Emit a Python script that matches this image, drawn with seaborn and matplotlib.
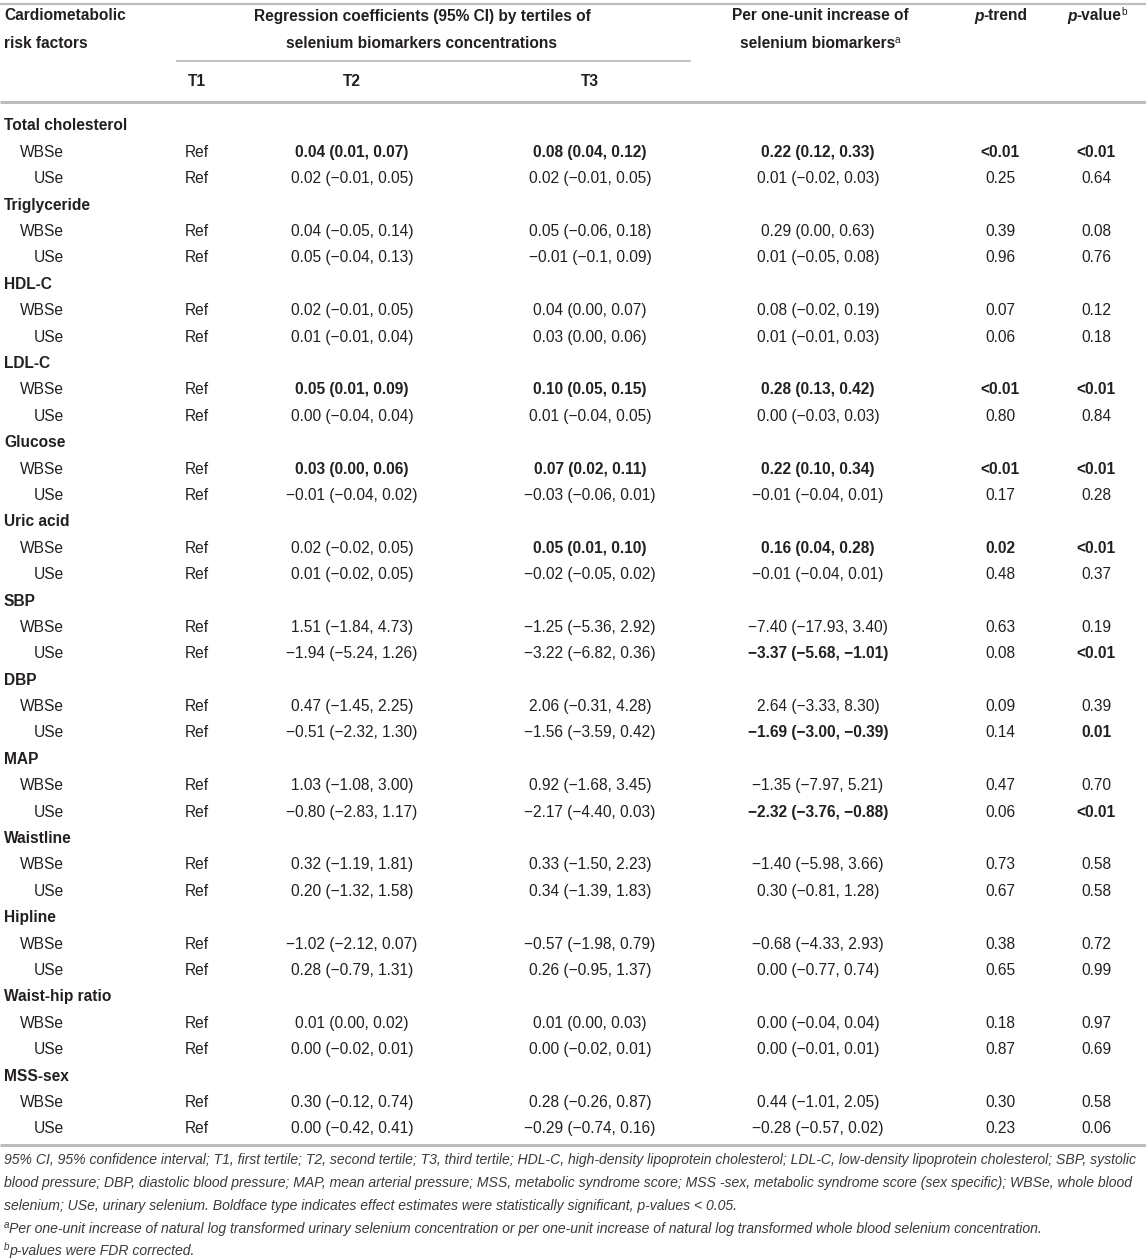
import seaborn as sns
import matplotlib.pyplot as plt

sns.set_theme(style="white")
plt.rcParams["font.family"] = ["Liberation Sans", "DejaVu Sans"]

# ---- table data ----
factors = ["Total cholesterol", "Triglyceride", "HDL-C", "LDL-C", "Glucose",
           "Uric acid", "SBP", "DBP", "MAP", "Waistline", "Hipline",
           "Waist-hip ratio", "MSS-sex"]
biomarkers = ["WBSe", "USe"]
t1_label = "Ref"

# two entries per factor: WBSe then USe
t2 = ["0.04 (0.01, 0.07)", "0.02 (\u22120.01, 0.05)",
      "0.04 (\u22120.05, 0.14)", "0.05 (\u22120.04, 0.13)",
      "0.02 (\u22120.01, 0.05)", "0.01 (\u22120.01, 0.04)",
      "0.05 (0.01, 0.09)", "0.00 (\u22120.04, 0.04)",
      "0.03 (0.00, 0.06)", "\u22120.01 (\u22120.04, 0.02)",
      "0.02 (\u22120.02, 0.05)", "0.01 (\u22120.02, 0.05)",
      "1.51 (\u22121.84, 4.73)", "\u22121.94 (\u22125.24, 1.26)",
      "0.47 (\u22121.45, 2.25)", "\u22120.51 (\u22122.32, 1.30)",
      "1.03 (\u22121.08, 3.00)", "\u22120.80 (\u22122.83, 1.17)",
      "0.32 (\u22121.19, 1.81)", "0.20 (\u22121.32, 1.58)",
      "\u22121.02 (\u22122.12, 0.07)", "0.28 (\u22120.79, 1.31)",
      "0.01 (0.00, 0.02)", "0.00 (\u22120.02, 0.01)",
      "0.30 (\u22120.12, 0.74)", "0.00 (\u22120.42, 0.41)"]
t3 = ["0.08 (0.04, 0.12)", "0.02 (\u22120.01, 0.05)",
      "0.05 (\u22120.06, 0.18)", "\u22120.01 (\u22120.1, 0.09)",
      "0.04 (0.00, 0.07)", "0.03 (0.00, 0.06)",
      "0.10 (0.05, 0.15)", "0.01 (\u22120.04, 0.05)",
      "0.07 (0.02, 0.11)", "\u22120.03 (\u22120.06, 0.01)",
      "0.05 (0.01, 0.10)", "\u22120.02 (\u22120.05, 0.02)",
      "\u22121.25 (\u22125.36, 2.92)", "\u22123.22 (\u22126.82, 0.36)",
      "2.06 (\u22120.31, 4.28)", "\u22121.56 (\u22123.59, 0.42)",
      "0.92 (\u22121.68, 3.45)", "\u22122.17 (\u22124.40, 0.03)",
      "0.33 (\u22121.50, 2.23)", "0.34 (\u22121.39, 1.83)",
      "\u22120.57 (\u22121.98, 0.79)", "0.26 (\u22120.95, 1.37)",
      "0.01 (0.00, 0.03)", "0.00 (\u22120.02, 0.01)",
      "0.28 (\u22120.26, 0.87)", "\u22120.29 (\u22120.74, 0.16)"]
per_unit = ["0.22 (0.12, 0.33)", "0.01 (\u22120.02, 0.03)",
            "0.29 (0.00, 0.63)", "0.01 (\u22120.05, 0.08)",
            "0.08 (\u22120.02, 0.19)", "0.01 (\u22120.01, 0.03)",
            "0.28 (0.13, 0.42)", "0.00 (\u22120.03, 0.03)",
            "0.22 (0.10, 0.34)", "\u22120.01 (\u22120.04, 0.01)",
            "0.16 (0.04, 0.28)", "\u22120.01 (\u22120.04, 0.01)",
            "\u22127.40 (\u221217.93, 3.40)", "\u22123.37 (\u22125.68, \u22121.01)",
            "2.64 (\u22123.33, 8.30)", "\u22121.69 (\u22123.00, \u22120.39)",
            "\u22121.35 (\u22127.97, 5.21)", "\u22122.32 (\u22123.76, \u22120.88)",
            "\u22121.40 (\u22125.98, 3.66)", "0.30 (\u22120.81, 1.28)",
            "\u22120.68 (\u22124.33, 2.93)", "0.00 (\u22120.77, 0.74)",
            "0.00 (\u22120.04, 0.04)", "0.00 (\u22120.01, 0.01)",
            "0.44 (\u22121.01, 2.05)", "\u22120.28 (\u22120.57, 0.02)"]
p_trend = ["<0.01", "0.25", "0.39", "0.96", "0.07", "0.06", "<0.01", "0.80",
           "<0.01", "0.17", "0.02", "0.48", "0.63", "0.08", "0.09", "0.14",
           "0.47", "0.06", "0.73", "0.67", "0.38", "0.65", "0.18", "0.87",
           "0.30", "0.23"]
p_value = ["<0.01", "0.64", "0.08", "0.76", "0.12", "0.18", "<0.01", "0.84",
           "<0.01", "0.28", "<0.01", "0.37", "0.19", "<0.01", "0.39", "0.01",
           "0.70", "<0.01", "0.58", "0.58", "0.72", "0.99", "0.97", "0.69",
           "0.58", "0.06"]

# significance flags (boldface) per column
sig_t2 = [1, 0, 0, 0, 0, 0, 1, 0, 1, 0, 0, 0, 0, 0, 0, 0, 0, 0, 0, 0, 0, 0, 0, 0, 0, 0]
sig_t3 = [1, 0, 0, 0, 0, 0, 1, 0, 1, 0, 1, 0, 0, 0, 0, 0, 0, 0, 0, 0, 0, 0, 0, 0, 0, 0]
sig_pu = [1, 0, 0, 0, 0, 0, 1, 0, 1, 0, 1, 0, 0, 1, 0, 1, 0, 1, 0, 0, 0, 0, 0, 0, 0, 0]
sig_pt = [1, 0, 0, 0, 0, 0, 1, 0, 1, 0, 1, 0, 0, 0, 0, 0, 0, 0, 0, 0, 0, 0, 0, 0, 0, 0]
sig_pv = [1, 0, 0, 0, 0, 0, 1, 0, 1, 0, 1, 0, 0, 1, 0, 1, 0, 1, 0, 0, 0, 0, 0, 0, 0, 0]

footnotes = [
    "95% CI, 95% confidence interval; T1, first tertile; T2, second tertile; T3, third tertile; "
    "HDL-C, high-density lipoprotein cholesterol; LDL-C, low-density lipoprotein cholesterol; SBP, systolic",
    "blood pressure; DBP, diastolic blood pressure; MAP, mean arterial pressure; MSS, metabolic syndrome score; "
    "MSS -sex, metabolic syndrome score (sex specific); WBSe, whole blood",
    "selenium; USe, urinary selenium. Boldface type indicates effect estimates were statistically "
    "significant, p-values < 0.05.",
]
footnote_a = ("Per one-unit increase of natural log transformed urinary selenium concentration or "
              "per one-unit increase of natural log transformed whole blood selenium concentration.")
footnote_b = "p-values were FDR corrected."

# ---- layout ----
W, H = 1146, 1260
TXT = "#231f20"
LINE = "#bdbdbd"
FS = 11.2

fig = plt.figure(figsize=(W / 100, H / 100), dpi=100)
ax = fig.add_axes([0, 0, 1, 1])
ax.set_xlim(0, W)
ax.set_ylim(H, 0)
ax.axis("off")
renderer = fig.canvas.get_renderer()


def runs(x, y, parts, ha="center"):
    """draw a sequence of (text, props) pieces side by side"""
    items = []
    for s, props in parts:
        p = dict(props)
        dy = p.pop("dy", 0)
        col = p.pop("color", TXT)
        t = ax.text(0, y + dy, s, va="center", ha="left", color=col, **p)
        items.append(t)
    widths = [t.get_window_extent(renderer).width for t in items]
    total = sum(widths)
    x0 = x - total / 2 if ha == "center" else x
    for t, w in zip(items, widths):
        t.set_x(x0)
        x0 += w


cols_x = {"t1": 197, "t2": 352, "t3": 590, "pu": 818, "pt": 1000, "pv": 1096}

# header
ax.plot([0, W], [4, 4], color=LINE, lw=1.6, solid_capstyle="butt")
ax.text(4, 16, "Cardiometabolic", fontsize=FS, fontweight="bold", color=TXT, va="center")
ax.text(4, 44, "risk factors", fontsize=FS, fontweight="bold", color=TXT, va="center")
ax.text(422, 16, "Regression coefficients (95% CI) by tertiles of", fontsize=FS,
        fontweight="bold", color=TXT, va="center", ha="center")
ax.text(422, 44, "selenium biomarkers concentrations", fontsize=FS,
        fontweight="bold", color=TXT, va="center", ha="center")
ax.plot([176, 691], [61, 61], color=LINE, lw=1.3, solid_capstyle="butt")
ax.text(820, 16, "Per one-unit increase of", fontsize=FS, fontweight="bold",
        color=TXT, va="center", ha="center")
runs(820, 44, [("selenium biomarkers", dict(fontsize=FS, fontweight="bold")),
               ("a", dict(fontsize=FS * 0.65, dy=-4))])
runs(1001, 16, [("p", dict(fontsize=FS, fontweight="bold", fontstyle="italic")),
                ("-trend", dict(fontsize=FS, fontweight="bold"))])
runs(1097, 16, [("p", dict(fontsize=FS, fontweight="bold", fontstyle="italic")),
                ("-value", dict(fontsize=FS, fontweight="bold")),
                ("b", dict(fontsize=FS * 0.65, dy=-4))])
for key, lab in [("t1", "T1"), ("t2", "T2"), ("t3", "T3")]:
    ax.text(cols_x[key], 81, lab, fontsize=FS, fontweight="bold", color=TXT,
            va="center", ha="center")
ax.plot([0, W], [102, 102], color=LINE, lw=2.2, solid_capstyle="butt")

# body
y0, dy = 126, 26.39
columns = [("t2", t2, sig_t2), ("t3", t3, sig_t3), ("pu", per_unit, sig_pu),
           ("pt", p_trend, sig_pt), ("pv", p_value, sig_pv)]
for k, fac in enumerate(factors):
    yf = y0 + 3 * k * dy
    ax.text(4, yf, fac, fontsize=FS, fontweight="bold", color=TXT, va="center")
    for j, bm in enumerate(biomarkers):
        i = 2 * k + j
        y = yf + (j + 1) * dy
        ax.text(64, y, bm, fontsize=FS, color=TXT, va="center", ha="right")
        ax.text(cols_x["t1"], y, t1_label, fontsize=FS, color=TXT, va="center", ha="center")
        for key, vals, sig in columns:
            ax.text(cols_x[key], y, vals[i], fontsize=FS, color=TXT, va="center",
                    ha="center", fontweight="bold" if sig[i] else "normal")

ax.plot([0, W], [1145, 1145], color=LINE, lw=2.2, solid_capstyle="butt")

# footnotes, sized to fill the width like the source
probe = ax.text(0, 0, footnotes[0], fontsize=10, fontstyle="italic")
fw = probe.get_window_extent(renderer).width
probe.remove()
FFS = 10 * 1136 / fw
FCOL = "#3a3a3a"
fy = [1160, 1183, 1206, 1229, 1251]
for s, y in zip(footnotes, fy[:3]):
    ax.text(4, y, s, fontsize=FFS, fontstyle="italic", color=FCOL, va="center")
runs(4, fy[3], [("a", dict(fontsize=FFS * 0.7, fontstyle="italic", dy=-4, color=FCOL)),
                (footnote_a, dict(fontsize=FFS, fontstyle="italic", color=FCOL))], ha="left")
runs(4, fy[4], [("b", dict(fontsize=FFS * 0.7, fontstyle="italic", dy=-4, color=FCOL)),
                (footnote_b, dict(fontsize=FFS, fontstyle="italic", color=FCOL))], ha="left")

fig.savefig("out.png", dpi=100)
plt.close(fig)
